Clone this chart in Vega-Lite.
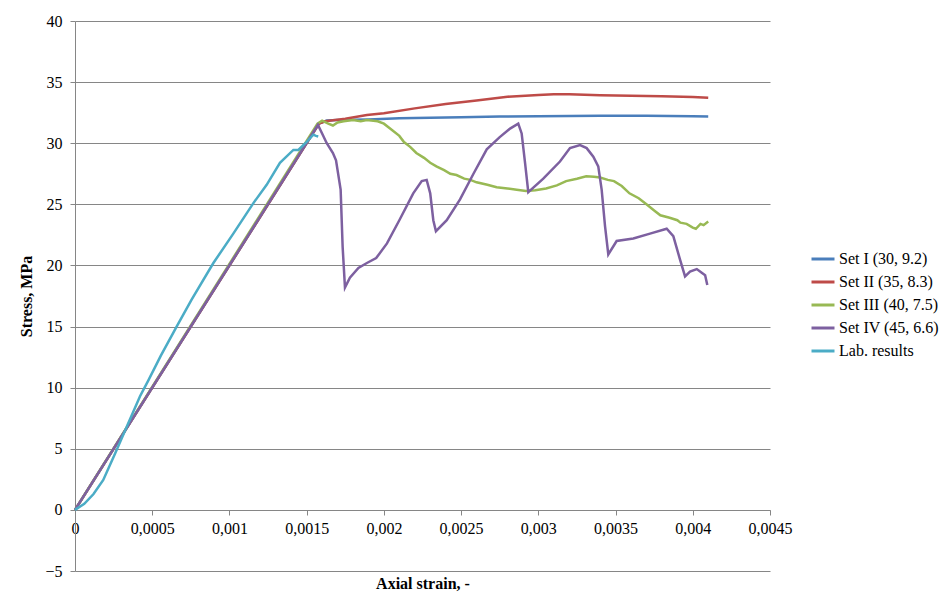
{
  "$schema": "https://vega.github.io/schema/vega-lite/v6.json",
  "width": 695,
  "height": 550,
  "autosize": {"type": "none"},
  "padding": {"left": 75, "top": 21, "right": 170, "bottom": 36},
  "background": "white",
  "config": {
    "font": "'Liberation Serif', 'Times New Roman', serif",
    "view": {"stroke": null},
    "axis": {"labelFont": "'Liberation Serif', 'Times New Roman', serif", "titleFont": "'Liberation Serif', 'Times New Roman', serif", "labelColor": "black", "titleColor": "black", "labelFontSize": 16, "titleFontSize": 16, "titleFontWeight": "bold", "domainColor": "#868686", "tickColor": "#868686", "gridColor": "#868686", "tickSize": 5},
    "legend": {"labelFont": "'Liberation Serif', 'Times New Roman', serif"}
  },
  "data": {"values": [
    {"s": "Set I (30, 9.2)", "x": 0, "y": 0},
    {"s": "Set I (30, 9.2)", "x": 0.00158, "y": 31.6},
    {"s": "Set I (30, 9.2)", "x": 0.00163, "y": 31.85},
    {"s": "Set I (30, 9.2)", "x": 0.0017, "y": 31.9},
    {"s": "Set I (30, 9.2)", "x": 0.0019, "y": 31.95},
    {"s": "Set I (30, 9.2)", "x": 0.0021, "y": 32.05},
    {"s": "Set I (30, 9.2)", "x": 0.0025, "y": 32.12},
    {"s": "Set I (30, 9.2)", "x": 0.00275, "y": 32.18},
    {"s": "Set I (30, 9.2)", "x": 0.003, "y": 32.2},
    {"s": "Set I (30, 9.2)", "x": 0.0034, "y": 32.25},
    {"s": "Set I (30, 9.2)", "x": 0.0037, "y": 32.25},
    {"s": "Set I (30, 9.2)", "x": 0.004, "y": 32.2},
    {"s": "Set I (30, 9.2)", "x": 0.0041, "y": 32.18},
    {"s": "Set II (35, 8.3)", "x": 0, "y": 0},
    {"s": "Set II (35, 8.3)", "x": 0.00158, "y": 31.6},
    {"s": "Set II (35, 8.3)", "x": 0.00162, "y": 31.8},
    {"s": "Set II (35, 8.3)", "x": 0.00175, "y": 32.0},
    {"s": "Set II (35, 8.3)", "x": 0.00189, "y": 32.3},
    {"s": "Set II (35, 8.3)", "x": 0.002, "y": 32.45},
    {"s": "Set II (35, 8.3)", "x": 0.0022, "y": 32.85},
    {"s": "Set II (35, 8.3)", "x": 0.0024, "y": 33.2},
    {"s": "Set II (35, 8.3)", "x": 0.0026, "y": 33.5},
    {"s": "Set II (35, 8.3)", "x": 0.0028, "y": 33.8},
    {"s": "Set II (35, 8.3)", "x": 0.003, "y": 33.95},
    {"s": "Set II (35, 8.3)", "x": 0.0031, "y": 34.0},
    {"s": "Set II (35, 8.3)", "x": 0.0032, "y": 34.0},
    {"s": "Set II (35, 8.3)", "x": 0.0034, "y": 33.92},
    {"s": "Set II (35, 8.3)", "x": 0.0036, "y": 33.88},
    {"s": "Set II (35, 8.3)", "x": 0.0038, "y": 33.85},
    {"s": "Set II (35, 8.3)", "x": 0.004, "y": 33.78},
    {"s": "Set II (35, 8.3)", "x": 0.0041, "y": 33.72},
    {"s": "Set III (40, 7.5)", "x": 0, "y": 0},
    {"s": "Set III (40, 7.5)", "x": 0.00157, "y": 31.6},
    {"s": "Set III (40, 7.5)", "x": 0.0016, "y": 31.85},
    {"s": "Set III (40, 7.5)", "x": 0.00164, "y": 31.6},
    {"s": "Set III (40, 7.5)", "x": 0.00167, "y": 31.45},
    {"s": "Set III (40, 7.5)", "x": 0.0017, "y": 31.7},
    {"s": "Set III (40, 7.5)", "x": 0.00174, "y": 31.8},
    {"s": "Set III (40, 7.5)", "x": 0.0018, "y": 31.9},
    {"s": "Set III (40, 7.5)", "x": 0.00185, "y": 31.8},
    {"s": "Set III (40, 7.5)", "x": 0.00189, "y": 31.9},
    {"s": "Set III (40, 7.5)", "x": 0.00196, "y": 31.8},
    {"s": "Set III (40, 7.5)", "x": 0.002, "y": 31.6},
    {"s": "Set III (40, 7.5)", "x": 0.00204, "y": 31.2},
    {"s": "Set III (40, 7.5)", "x": 0.0021, "y": 30.6},
    {"s": "Set III (40, 7.5)", "x": 0.00213, "y": 30.1},
    {"s": "Set III (40, 7.5)", "x": 0.00217, "y": 29.7},
    {"s": "Set III (40, 7.5)", "x": 0.00221, "y": 29.2},
    {"s": "Set III (40, 7.5)", "x": 0.00226, "y": 28.8},
    {"s": "Set III (40, 7.5)", "x": 0.0023, "y": 28.4},
    {"s": "Set III (40, 7.5)", "x": 0.00234, "y": 28.1},
    {"s": "Set III (40, 7.5)", "x": 0.00239, "y": 27.8},
    {"s": "Set III (40, 7.5)", "x": 0.00243, "y": 27.5},
    {"s": "Set III (40, 7.5)", "x": 0.00247, "y": 27.4},
    {"s": "Set III (40, 7.5)", "x": 0.00252, "y": 27.1},
    {"s": "Set III (40, 7.5)", "x": 0.00256, "y": 27.0},
    {"s": "Set III (40, 7.5)", "x": 0.0026, "y": 26.8},
    {"s": "Set III (40, 7.5)", "x": 0.00267, "y": 26.6},
    {"s": "Set III (40, 7.5)", "x": 0.00273, "y": 26.4},
    {"s": "Set III (40, 7.5)", "x": 0.0028, "y": 26.3},
    {"s": "Set III (40, 7.5)", "x": 0.00286, "y": 26.2},
    {"s": "Set III (40, 7.5)", "x": 0.00292, "y": 26.1},
    {"s": "Set III (40, 7.5)", "x": 0.00298, "y": 26.15},
    {"s": "Set III (40, 7.5)", "x": 0.00305, "y": 26.3},
    {"s": "Set III (40, 7.5)", "x": 0.00312, "y": 26.55},
    {"s": "Set III (40, 7.5)", "x": 0.00318, "y": 26.9},
    {"s": "Set III (40, 7.5)", "x": 0.00325, "y": 27.1},
    {"s": "Set III (40, 7.5)", "x": 0.00331, "y": 27.3},
    {"s": "Set III (40, 7.5)", "x": 0.00336, "y": 27.25},
    {"s": "Set III (40, 7.5)", "x": 0.0034, "y": 27.2},
    {"s": "Set III (40, 7.5)", "x": 0.00345, "y": 27.0},
    {"s": "Set III (40, 7.5)", "x": 0.00349, "y": 26.9},
    {"s": "Set III (40, 7.5)", "x": 0.00354, "y": 26.5},
    {"s": "Set III (40, 7.5)", "x": 0.00359, "y": 25.9},
    {"s": "Set III (40, 7.5)", "x": 0.00365, "y": 25.5},
    {"s": "Set III (40, 7.5)", "x": 0.0037, "y": 25.0},
    {"s": "Set III (40, 7.5)", "x": 0.00375, "y": 24.5},
    {"s": "Set III (40, 7.5)", "x": 0.00379, "y": 24.1},
    {"s": "Set III (40, 7.5)", "x": 0.00385, "y": 23.9},
    {"s": "Set III (40, 7.5)", "x": 0.0039, "y": 23.7},
    {"s": "Set III (40, 7.5)", "x": 0.00392, "y": 23.5},
    {"s": "Set III (40, 7.5)", "x": 0.00396, "y": 23.4},
    {"s": "Set III (40, 7.5)", "x": 0.004, "y": 23.1},
    {"s": "Set III (40, 7.5)", "x": 0.00402, "y": 23.0},
    {"s": "Set III (40, 7.5)", "x": 0.00405, "y": 23.4},
    {"s": "Set III (40, 7.5)", "x": 0.00407, "y": 23.3},
    {"s": "Set III (40, 7.5)", "x": 0.0041, "y": 23.6},
    {"s": "Set IV (45, 6.6)", "x": 0, "y": 0},
    {"s": "Set IV (45, 6.6)", "x": 0.001573, "y": 31.5},
    {"s": "Set IV (45, 6.6)", "x": 0.0016, "y": 30.8},
    {"s": "Set IV (45, 6.6)", "x": 0.00163, "y": 30.0},
    {"s": "Set IV (45, 6.6)", "x": 0.00167, "y": 29.2},
    {"s": "Set IV (45, 6.6)", "x": 0.00169, "y": 28.6},
    {"s": "Set IV (45, 6.6)", "x": 0.00172, "y": 26.2},
    {"s": "Set IV (45, 6.6)", "x": 0.001733, "y": 21.5},
    {"s": "Set IV (45, 6.6)", "x": 0.001748, "y": 18.2},
    {"s": "Set IV (45, 6.6)", "x": 0.00178, "y": 19.0},
    {"s": "Set IV (45, 6.6)", "x": 0.001835, "y": 19.8},
    {"s": "Set IV (45, 6.6)", "x": 0.00189, "y": 20.2},
    {"s": "Set IV (45, 6.6)", "x": 0.00195, "y": 20.6},
    {"s": "Set IV (45, 6.6)", "x": 0.00202, "y": 21.8},
    {"s": "Set IV (45, 6.6)", "x": 0.0021, "y": 23.7},
    {"s": "Set IV (45, 6.6)", "x": 0.00219, "y": 25.9},
    {"s": "Set IV (45, 6.6)", "x": 0.002245, "y": 26.9},
    {"s": "Set IV (45, 6.6)", "x": 0.002277, "y": 27.0},
    {"s": "Set IV (45, 6.6)", "x": 0.0023, "y": 25.9},
    {"s": "Set IV (45, 6.6)", "x": 0.00232, "y": 23.7},
    {"s": "Set IV (45, 6.6)", "x": 0.002337, "y": 22.8},
    {"s": "Set IV (45, 6.6)", "x": 0.002407, "y": 23.7},
    {"s": "Set IV (45, 6.6)", "x": 0.002493, "y": 25.4},
    {"s": "Set IV (45, 6.6)", "x": 0.00258, "y": 27.5},
    {"s": "Set IV (45, 6.6)", "x": 0.002666, "y": 29.5},
    {"s": "Set IV (45, 6.6)", "x": 0.00275, "y": 30.5},
    {"s": "Set IV (45, 6.6)", "x": 0.002817, "y": 31.2},
    {"s": "Set IV (45, 6.6)", "x": 0.00287, "y": 31.6},
    {"s": "Set IV (45, 6.6)", "x": 0.002892, "y": 30.8},
    {"s": "Set IV (45, 6.6)", "x": 0.002914, "y": 28.4},
    {"s": "Set IV (45, 6.6)", "x": 0.002935, "y": 26.0},
    {"s": "Set IV (45, 6.6)", "x": 0.003032, "y": 27.1},
    {"s": "Set IV (45, 6.6)", "x": 0.00314, "y": 28.5},
    {"s": "Set IV (45, 6.6)", "x": 0.003205, "y": 29.6},
    {"s": "Set IV (45, 6.6)", "x": 0.00327, "y": 29.85},
    {"s": "Set IV (45, 6.6)", "x": 0.003313, "y": 29.6},
    {"s": "Set IV (45, 6.6)", "x": 0.003356, "y": 28.9},
    {"s": "Set IV (45, 6.6)", "x": 0.003388, "y": 28.1},
    {"s": "Set IV (45, 6.6)", "x": 0.00341, "y": 26.2},
    {"s": "Set IV (45, 6.6)", "x": 0.003432, "y": 23.2},
    {"s": "Set IV (45, 6.6)", "x": 0.003453, "y": 20.9},
    {"s": "Set IV (45, 6.6)", "x": 0.003507, "y": 22.0},
    {"s": "Set IV (45, 6.6)", "x": 0.003615, "y": 22.2},
    {"s": "Set IV (45, 6.6)", "x": 0.003723, "y": 22.6},
    {"s": "Set IV (45, 6.6)", "x": 0.003831, "y": 23.0},
    {"s": "Set IV (45, 6.6)", "x": 0.003874, "y": 22.4},
    {"s": "Set IV (45, 6.6)", "x": 0.003917, "y": 20.5},
    {"s": "Set IV (45, 6.6)", "x": 0.00395, "y": 19.1},
    {"s": "Set IV (45, 6.6)", "x": 0.003982, "y": 19.5},
    {"s": "Set IV (45, 6.6)", "x": 0.004026, "y": 19.7},
    {"s": "Set IV (45, 6.6)", "x": 0.004058, "y": 19.4},
    {"s": "Set IV (45, 6.6)", "x": 0.00408, "y": 19.2},
    {"s": "Set IV (45, 6.6)", "x": 0.004094, "y": 18.4},
    {"s": "Lab. results", "x": 0, "y": 0},
    {"s": "Lab. results", "x": 0.00006, "y": 0.5},
    {"s": "Lab. results", "x": 0.00012, "y": 1.3},
    {"s": "Lab. results", "x": 0.000183, "y": 2.45},
    {"s": "Lab. results", "x": 0.000259, "y": 4.6},
    {"s": "Lab. results", "x": 0.000335, "y": 6.8},
    {"s": "Lab. results", "x": 0.000421, "y": 9.3},
    {"s": "Lab. results", "x": 0.000475, "y": 10.6},
    {"s": "Lab. results", "x": 0.000555, "y": 12.6},
    {"s": "Lab. results", "x": 0.000658, "y": 15.0},
    {"s": "Lab. results", "x": 0.000755, "y": 17.2},
    {"s": "Lab. results", "x": 0.000896, "y": 20.2},
    {"s": "Lab. results", "x": 0.001025, "y": 22.6},
    {"s": "Lab. results", "x": 0.001155, "y": 25.1},
    {"s": "Lab. results", "x": 0.001241, "y": 26.6},
    {"s": "Lab. results", "x": 0.001327, "y": 28.4},
    {"s": "Lab. results", "x": 0.001414, "y": 29.45},
    {"s": "Lab. results", "x": 0.001446, "y": 29.45},
    {"s": "Lab. results", "x": 0.0015, "y": 30.1},
    {"s": "Lab. results", "x": 0.001543, "y": 30.7},
    {"s": "Lab. results", "x": 0.00156, "y": 30.6},
    {"s": "Lab. results", "x": 0.001575, "y": 30.55}
  ]},
  "mark": {"type": "line", "strokeWidth": 2.5, "clip": false},
  "encoding": {
    "x": {
      "field": "x", "type": "quantitative",
      "scale": {"domain": [0, 0.0045], "nice": false, "zero": false},
      "axis": {
        "title": "Axial strain, -",
        "values": [0, 0.0005, 0.001, 0.0015, 0.002, 0.0025, 0.003, 0.0035, 0.004, 0.0045],
        "labelExpr": "replace(toString(datum.value), '.', ',')",
        "grid": false,
        "offset": -61,
        "labelPadding": 5,
        "labelFlush": false,
        "titleY": 78,
        "titleBaseline": "alphabetic"
      }
    },
    "y": {
      "field": "y", "type": "quantitative",
      "scale": {"domain": [-5, 40], "nice": false, "zero": false},
      "axis": {
        "title": "Stress, MPa",
        "values": [-5, 0, 5, 10, 15, 20, 25, 30, 35, 40],
        "grid": true,
        "labelPadding": 8,
        "titlePadding": 10
      }
    },
    "color": {
      "field": "s", "type": "nominal",
      "scale": {
        "domain": ["Set I (30, 9.2)", "Set II (35, 8.3)", "Set III (40, 7.5)", "Set IV (45, 6.6)", "Lab. results"],
        "range": ["#4A7EBB", "#BE4B48", "#98B954", "#7D60A0", "#4BACC6"]
      },
      "legend": {
        "title": null,
        "orient": "none",
        "legendX": 735,
        "legendY": 225,
        "padding": 0,
        "symbolType": "stroke",
        "symbolSize": 529,
        "symbolStrokeWidth": 3,
        "labelFont": "'Liberation Serif', 'Times New Roman', serif",
        "labelFontSize": 16,
        "labelColor": "black",
        "labelOffset": 3,
        "rowPadding": 2,
        "labelLimit": 200
      }
    }
  }
}
